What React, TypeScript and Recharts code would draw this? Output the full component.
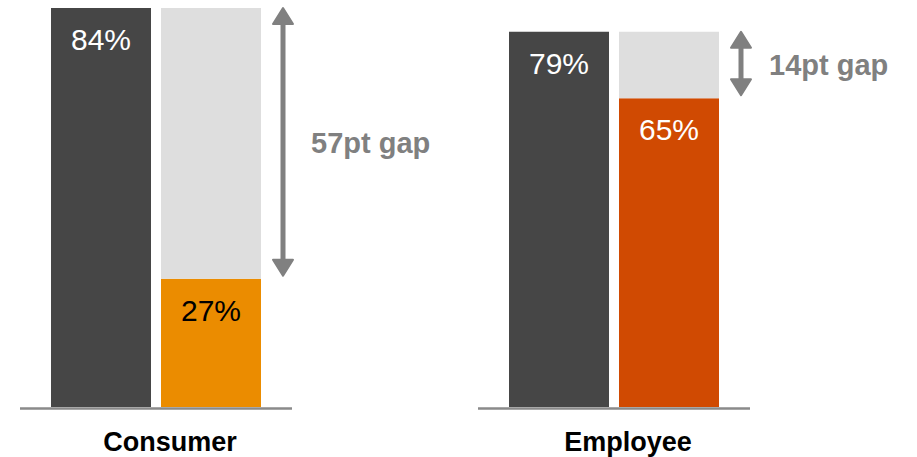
import { BarChart, Bar, XAxis, YAxis, LabelList } from 'recharts';

const categories = ['Consumer', 'Employee'];
const totals = [84, 79];
const values = [27, 65];

const DARK = '#464646';
const LIGHT = '#dedede';
const ARROW = '#808080';
const valueColors = ['#eb8c00', '#d04a02'];
const valueLabelColors = ['#000000', '#ffffff'];
const FONT = '"Liberation Sans", Arial, Helvetica, sans-serif';

const rows = categories.map((name, i) => ({
  name,
  total: totals[i],
  value: values[i],
  gap: totals[i] - values[i]
}));

const yMax = Math.max(...totals);

const GapShape = (props: any) => {
  const { x, y, width, height, payload } = props;
  const ax = x + width + 22;
  const top = y - 1;
  const bottom = y + height - 2;
  const mid = (top + bottom) / 2;
  return (
    <g>
      <rect x={x} y={y} width={width} height={height} fill={LIGHT} />
      <line x1={ax} y1={top + 14} x2={ax} y2={bottom - 14} stroke={ARROW} strokeWidth={5} />
      <path
        d={`M${ax},${top + 1} L${ax + 10},${top + 17} L${ax - 10},${top + 17} Z`}
        fill={ARROW}
        stroke={ARROW}
        strokeWidth={2}
        strokeLinejoin="round"
      />
      <path
        d={`M${ax},${bottom - 1} L${ax + 10},${bottom - 17} L${ax - 10},${bottom - 17} Z`}
        fill={ARROW}
        stroke={ARROW}
        strokeWidth={2}
        strokeLinejoin="round"
      />
      <text
        x={ax + 28}
        y={mid + 11}
        fill={ARROW}
        fontFamily={FONT}
        fontSize={29}
        fontWeight="bold"
      >
        {payload.gap}pt gap
      </text>
    </g>
  );
};

const valueLabel = (color: string) => (props: any) => {
  const { x, y, width, value } = props;
  return (
    <text
      x={x + width / 2}
      y={y + 42}
      textAnchor="middle"
      fill={color}
      fontFamily={FONT}
      fontSize={30}
    >
      {value}%
    </text>
  );
};

const CategoryTick = (props: any) => {
  const { x, payload } = props;
  return (
    <text
      x={x + 14}
      y={451}
      textAnchor="middle"
      fill="#000"
      fontFamily={FONT}
      fontSize={27}
      fontWeight="bold"
    >
      {payload.value}
    </text>
  );
};

const Group = ({ index, left, marginLeft, marginRight, width }: any) => (
  <div style={{ position: 'absolute', left, top: 0 }}>
    <BarChart
      width={width}
      height={457}
      data={[rows[index]]}
      margin={{ top: 8, right: marginRight, bottom: 0, left: marginLeft }}
      barGap={10}
    >
      <XAxis
        dataKey="name"
        height={50}
        tickLine={false}
        axisLine={{ stroke: '#8a8a8a', strokeWidth: 2.5, transform: 'translate(0,1.5)' }}
        tick={<CategoryTick />}
        interval={0}
      />
      <YAxis hide domain={[0, yMax]} />
      <Bar dataKey="total" stackId="a" fill={DARK} barSize={100} isAnimationActive={false}>
        <LabelList dataKey="total" content={valueLabel('#ffffff')} />
      </Bar>
      <Bar dataKey="value" stackId="b" fill={valueColors[index]} barSize={100} isAnimationActive={false}>
        <LabelList dataKey="value" content={valueLabel(valueLabelColors[index])} />
      </Bar>
      <Bar dataKey="gap" stackId="b" fill={LIGHT} barSize={100} shape={GapShape} isAnimationActive={false} />
    </BarChart>
  </div>
);

export default function App() {
  return (
    <div style={{ position: 'absolute', left: 0, top: 0, width: 917, height: 457, background: '#fff' }}>
      <Group index={0} left={0} marginLeft={20} marginRight={168} width={460} />
      <Group index={1} left={458} marginLeft={20} marginRight={165} width={457} />
    </div>
  );
}
